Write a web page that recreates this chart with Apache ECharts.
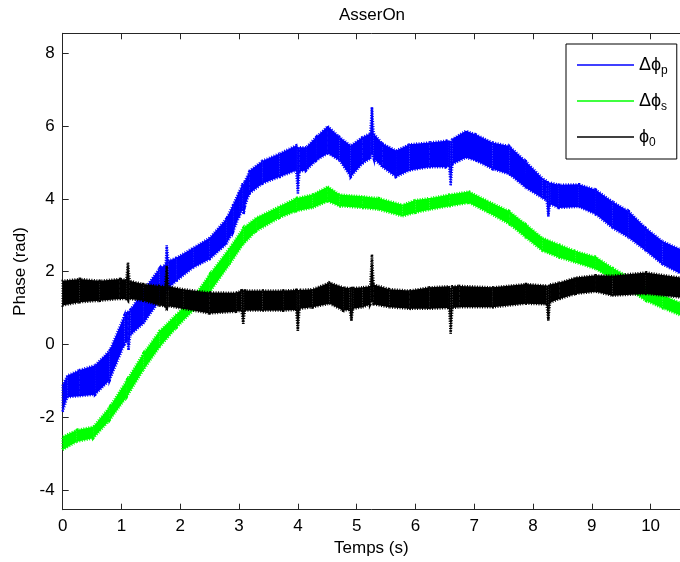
<!DOCTYPE html>
<html>
<head>
<meta charset="utf-8">
<script src="https://cdn.jsdelivr.net/npm/echarts@6/dist/echarts.min.js"></script>
<style>
  html, body { margin: 0; padding: 0; background: #fff; }
</style>
</head>
<body>
<div id="chart_phase" style="width:680px; height:562px"></div>
<script>
// Δϕp band (lower / upper edge of the noisy trace), t in s
var tP = [0, 0.08, 0.29, 0.55, 0.8, 1.05, 1.1, 1.12, 1.15, 1.37, 1.65, 1.75, 1.77, 1.8, 1.94, 2.22, 2.5, 2.78, 2.9, 3.0, 3.06, 3.08, 3.1, 3.18, 3.4, 3.69, 3.97, 4.0, 4.03, 4.14, 4.31, 4.51, 4.71, 4.9, 5.1, 5.23, 5.26, 5.29, 5.44, 5.67, 5.9, 6.24, 6.52, 6.57, 6.6, 6.63, 6.86, 7.03, 7.31, 7.6, 7.88, 8.16, 8.23, 8.26, 8.29, 8.44, 8.78, 9.07, 9.35, 9.63, 9.92, 10.2, 10.5];
var loP = [-1.85, -1.45, -1.42, -1.38, -0.98, 0.0, 0.1, -0.15, 0.25, 0.57, 1.2, 1.4, 1.5, 1.55, 1.75, 2.11, 2.34, 2.75, 3.1, 3.5, 3.7, 3.58, 3.8, 4.15, 4.42, 4.6, 4.78, 4.15, 4.75, 4.78, 5.05, 5.25, 5.05, 4.6, 4.97, 5.1, 5.25, 5.1, 4.87, 4.6, 4.78, 4.87, 4.87, 4.9, 4.37, 4.95, 5.13, 5.05, 4.82, 4.67, 4.3, 4.02, 3.95, 3.52, 3.85, 3.75, 3.78, 3.57, 3.2, 2.93, 2.57, 2.2, 1.95];
var hiP = [-1.1, -0.85, -0.7, -0.57, -0.16, 0.8, 0.9, 0.9, 0.95, 1.48, 2.1, 2.2, 2.72, 2.3, 2.39, 2.66, 2.93, 3.45, 3.85, 4.2, 4.4, 4.4, 4.5, 4.78, 5.05, 5.25, 5.47, 5.4, 5.42, 5.42, 5.7, 6.0, 5.7, 5.47, 5.7, 5.8, 6.52, 5.8, 5.52, 5.33, 5.5, 5.55, 5.6, 5.6, 5.55, 5.65, 5.87, 5.77, 5.55, 5.45, 5.03, 4.57, 4.5, 4.45, 4.45, 4.39, 4.4, 4.25, 3.93, 3.66, 3.2, 2.84, 2.62];

// Δϕs band
var tS = [0, 0.24, 0.52, 0.8, 1.09, 1.37, 1.65, 1.94, 2.22, 2.5, 2.84, 3.07, 3.29, 3.69, 3.97, 4.25, 4.51, 4.71, 5.1, 5.38, 5.78, 6.0, 6.24, 6.58, 6.91, 7.25, 7.6, 7.88, 8.16, 8.44, 8.72, 9.07, 9.35, 9.63, 9.92, 10.2, 10.5];
var loS = [-2.9, -2.67, -2.58, -2.08, -1.44, -0.71, -0.07, 0.47, 0.93, 1.43, 2.2, 2.75, 3.11, 3.48, 3.66, 3.75, 3.93, 3.8, 3.75, 3.7, 3.52, 3.62, 3.7, 3.8, 3.89, 3.61, 3.3, 2.93, 2.57, 2.39, 2.25, 2.07, 1.8, 1.5, 1.2, 1.0, 0.8];
var hiS = [-2.53, -2.35, -2.26, -1.71, -0.98, -0.25, 0.38, 0.84, 1.29, 1.93, 2.66, 3.2, 3.48, 3.8, 4.02, 4.12, 4.34, 4.12, 4.07, 4.02, 3.84, 3.97, 4.02, 4.12, 4.2, 3.93, 3.66, 3.3, 2.93, 2.75, 2.57, 2.4, 2.11, 1.85, 1.57, 1.35, 1.15];

// ϕ0 band
var t0 = [0, 0.29, 0.63, 0.97, 1.08, 1.11, 1.14, 1.37, 1.65, 1.74, 1.77, 1.8, 2.05, 2.5, 2.95, 3.04, 3.07, 3.1, 3.4, 3.75, 3.97, 4.0, 4.03, 4.25, 4.54, 4.77, 4.88, 4.91, 4.94, 5.1, 5.23, 5.26, 5.29, 5.56, 5.9, 6.24, 6.57, 6.6, 6.63, 6.75, 7.31, 7.88, 8.23, 8.26, 8.29, 8.45, 8.73, 9.07, 9.35, 9.92, 10.5];
var lo0 = [1.07, 1.16, 1.2, 1.25, 1.25, 1.2, 1.25, 1.2, 1.07, 1.05, 1.0, 1.05, 0.98, 0.85, 0.9, 0.93, 0.57, 0.93, 0.93, 0.93, 0.95, 0.38, 0.98, 1.02, 1.12, 0.93, 0.95, 0.66, 0.98, 1.02, 1.1, 1.2, 1.1, 1.02, 0.98, 0.98, 1.0, 0.3, 1.0, 1.02, 1.02, 1.12, 1.1, 0.66, 1.15, 1.25, 1.39, 1.45, 1.34, 1.39, 1.29];
var hi0 = [1.75, 1.8, 1.75, 1.8, 1.78, 2.25, 1.75, 1.66, 1.61, 1.6, 2.16, 1.6, 1.52, 1.43, 1.42, 1.48, 1.48, 1.48, 1.48, 1.48, 1.5, 1.5, 1.5, 1.52, 1.7, 1.57, 1.55, 1.55, 1.55, 1.57, 1.6, 2.48, 1.65, 1.52, 1.48, 1.57, 1.6, 1.55, 1.6, 1.61, 1.57, 1.66, 1.62, 1.6, 1.65, 1.7, 1.84, 1.9, 1.89, 1.98, 1.84];

var xTicks = [0, 1, 2, 3, 4, 5, 6, 7, 8, 9, 10];
var yTicks = [-4, -2, 0, 2, 4, 6, 8];

var fontFam = "'Liberation Sans', Arial, sans-serif";
var subNames = { "Δϕp": ["Δϕ", "p"], "Δϕs": ["Δϕ", "s"], "ϕ0": ["ϕ", "0"] };

function bandSeries(name, color, t, lo, hi) {
  var segs = [];
  for (var i = 0; i < t.length - 1; i++) {
    segs.push([t[i], lo[i], hi[i], t[i + 1], lo[i + 1], hi[i + 1]]);
  }
  return {
    name: name,
    type: "custom",
    itemStyle: { color: color },
    encode: { x: [0, 3], y: [1, 2, 4, 5] },
    silent: true,
    renderItem: function(params, api) {
      var pts = [
        api.coord([api.value(0), api.value(1)]),
        api.coord([api.value(3), api.value(4)]),
        api.coord([api.value(3), api.value(5)]),
        api.coord([api.value(0), api.value(2)])
      ];
      // ragged dashed outline gives the noisy edge look
      return {
        type: "polygon",
        shape: { points: pts },
        style: { fill: color, stroke: color, lineWidth: 2.5, lineDash: [1, 1.5] }
      };
    },
    data: segs
  };
}

var myChart = echarts.init(document.getElementById("chart_phase"));
myChart.setOption({
  animation: false,
  backgroundColor: "#fff",
  textStyle: { fontFamily: fontFam },
  title: {
    text: "AsserOn",
    left: 372,
    top: 7,
    padding: 0,
    textAlign: "center",
    textStyle: { fontFamily: fontFam, fontSize: 17, fontWeight: "normal", color: "#000" }
  },
  legend: {
    data: [
      { name: "Δϕp", itemStyle: { color: "#0000ff" } },
      { name: "Δϕs", itemStyle: { color: "#00ff00" } },
      { name: "ϕ0", itemStyle: { color: "#000000" } }
    ],
    orient: "vertical",
    left: 566,
    top: 44,
    padding: [12, 9, 10, 11],
    itemGap: 15,
    itemWidth: 57,
    itemHeight: 1.5,
    icon: "rect",
    selectedMode: false,
    backgroundColor: "#fff",
    borderColor: "#000",
    borderWidth: 1,
    borderRadius: 0,
    formatter: function(name) {
      var s = subNames[name];
      return "{m|" + s[0] + "}{sub|" + s[1] + "}";
    },
    textStyle: {
      color: "#000",
      fontFamily: fontFam,
      fontSize: 17,
      rich: {
        m: { fontSize: 18, lineHeight: 24, color: "#000", verticalAlign: "middle" },
        sub: { fontSize: 12, lineHeight: 11, color: "#000", verticalAlign: "bottom" }
      }
    }
  },
  grid: {
    left: 62.7,
    top: 33.3,
    right: -1,
    bottom: 52.3
  },
  xAxis: [
    {
      type: "value",
      min: 0,
      max: 10.5,
      interval: 1,
      name: "Temps (s)",
      nameLocation: "middle",
      nameGap: 29,
      nameTextStyle: { fontFamily: fontFam, fontSize: 17, color: "#000" },
      axisLine: { show: true, onZero: false, lineStyle: { color: "#262626", width: 1 } },
      axisTick: { show: true, inside: true, length: 6, lineStyle: { color: "#262626" } },
      axisLabel: {
        margin: 8,
        fontFamily: fontFam,
        fontSize: 17,
        color: "#000",
        showMaxLabel: false,
        formatter: function(v) { return xTicks.indexOf(v) >= 0 ? String(v) : ""; }
      },
      splitLine: { show: false }
    },
    {
      type: "value",
      position: "top",
      min: 0,
      max: 10.5,
      interval: 1,
      axisLine: { show: true, onZero: false, lineStyle: { color: "#262626", width: 1 } },
      axisTick: { show: true, inside: true, length: 6, lineStyle: { color: "#262626" } },
      axisLabel: { show: false },
      splitLine: { show: false }
    }
  ],
  yAxis: [
    {
      type: "value",
      min: -4.54,
      max: 8.55,
      name: "Phase (rad)",
      nameLocation: "middle",
      nameGap: 34,
      nameTextStyle: { fontFamily: fontFam, fontSize: 17, color: "#000" },
      axisLine: { show: true, onZero: false, lineStyle: { color: "#262626", width: 1 } },
      axisTick: { show: true, inside: true, length: 6, customValues: yTicks, lineStyle: { color: "#262626" } },
      axisLabel: {
        margin: 8,
        fontFamily: fontFam,
        fontSize: 17,
        color: "#000",
        customValues: yTicks
      },
      splitLine: { show: false }
    }
  ],
  series: [
    bandSeries("Δϕp", "#0000ff", tP, loP, hiP),
    bandSeries("Δϕs", "#00ff00", tS, loS, hiS),
    bandSeries("ϕ0", "#000000", t0, lo0, hi0)
  ]
});
</script>
</body>
</html>
